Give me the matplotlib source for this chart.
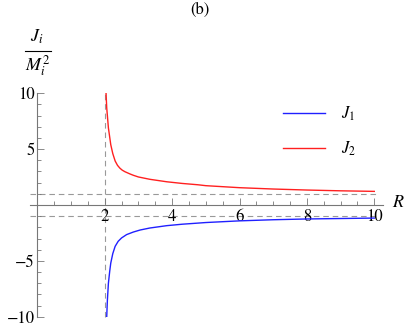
import numpy as np
import matplotlib
matplotlib.use('Agg')
from matplotlib import pyplot as plt
from matplotlib.ticker import FixedLocator

plt.rcParams['font.family'] = ['STIXGeneral', 'DejaVu Serif']
plt.rcParams['mathtext.fontset'] = 'stix'

# values
r_j2 = [2.04, 2.06, 2.11, 2.18, 2.24, 2.31, 2.38, 2.45, 2.52, 2.60, 2.75, 2.85, 3.0, 3.34, 3.84,
        4.3, 4.77, 5.0, 6.0, 7.0, 8.0, 9.0, 10.0]
j2 = [10.0, 8.7, 6.9, 5.4, 4.6, 3.94, 3.55, 3.30, 3.12, 2.98, 2.78, 2.66, 2.51, 2.30, 2.08,
      1.93, 1.81, 1.73, 1.55, 1.43, 1.34, 1.27, 1.22]
r_j1 = [2.06, 2.08, 2.11, 2.15, 2.18, 2.24, 2.31, 2.40, 2.50, 2.65, 2.85, 3.05, 3.34, 3.84,
        4.3, 4.77, 5.0, 6.0, 7.0, 8.0, 9.0, 10.0]
j1 = [-10.0, -8.5, -7.0, -5.9, -5.2, -4.35, -3.7, -3.25, -2.95, -2.65, -2.42, -2.24, -2.06, -1.85,
      -1.72, -1.62, -1.57, -1.42, -1.32, -1.25, -1.21, -1.17]
x_ticks = [2, 4, 6, 8, 10]
y_ticks = [-10, -5, 5, 10]
asym_r = 2
asym_j = [1, -1]

W, H = 409, 327
fig = plt.figure(figsize=(W / 100, H / 100), dpi=100)
# pixel geometry of the plot box
x0px, x10px = 37.3, 374.3
ppx = (x10px - x0px) / 10
xmin, xmax = -0.22, 10.27
ytop, ybot = 93.3, 316.7
ax = fig.add_axes([(x0px + xmin * ppx) / W, (H - ybot) / H,
                   (xmax - xmin) * ppx / W, (ybot - ytop) / H])
ax.set_xlim(xmin, xmax)
ax.set_ylim(-10, 10)

axis_col = '#777777'
for s in ['top', 'right']:
    ax.spines[s].set_visible(False)
ax.spines['left'].set_position(('data', 0))
ax.spines['bottom'].set_position(('data', 0))
for s in ['left', 'bottom']:
    ax.spines[s].set_color(axis_col)
    ax.spines[s].set_linewidth(0.8)

# dashed guides
dash = dict(color='#999999', lw=0.8, ls=(0, (5, 3.5)), clip_on=False, zorder=1)
ax.plot([asym_r, asym_r], [-10, 10], **dash)
for v in asym_j:
    ax.plot([xmin, 10.1], [v, v], **dash)

ax.plot(r_j1, j1, color='#2020ff', lw=1.0, label=r'$J_{\mathit{1}}$', zorder=3)
ax.plot(r_j2, j2, color='#ff2020', lw=1.0, label=r'$J_{\mathit{2}}$', zorder=3)

ax.xaxis.set_major_locator(FixedLocator(x_ticks))
ax.xaxis.set_minor_locator(FixedLocator(np.arange(0.5, 10.01, 0.5)))
ax.yaxis.set_major_locator(FixedLocator(y_ticks))
ax.yaxis.set_minor_locator(FixedLocator(np.arange(-10, 10.01, 1)))
ax.tick_params(axis='both', which='both', direction='in', color=axis_col,
               width=0.6, labelsize=12, labelcolor='black')
ax.tick_params(which='major', length=5)
ax.tick_params(which='minor', length=3)
ax.tick_params(axis='x', pad=3)
ax.tick_params(axis='y', pad=2)
ax.set_yticklabels(['\u221210', '\u22125', '5', '10'])

leg = ax.legend(loc='upper left',
                bbox_to_anchor=((283 - 37.3 - xmin * ppx) / ((xmax - xmin) * ppx), 1 - (105 - ytop) / (ybot - ytop)),
                frameon=False, fontsize=12, handlelength=2.5, handletextpad=1.0,
                labelspacing=1.0, borderaxespad=0, borderpad=0)

fig.text(398 / W, 1 - 203 / H, r'$R$', fontsize=13, ha='center', va='center')
fig.text(37 / W, 1 - 37 / H, r'$J_i$', fontsize=13, ha='center', va='center')
fig.add_artist(plt.Line2D([25 / W, 51 / W], [1 - 51 / H, 1 - 51 / H], color='black', lw=0.8))
fig.text(38 / W, 1 - 66 / H, r'$M_i^2$', fontsize=13, ha='center', va='center')
fig.text(200 / W, 1 - 10 / H, '(b)', fontsize=12, ha='center', va='center')

plt.savefig('out.png', dpi=100)
